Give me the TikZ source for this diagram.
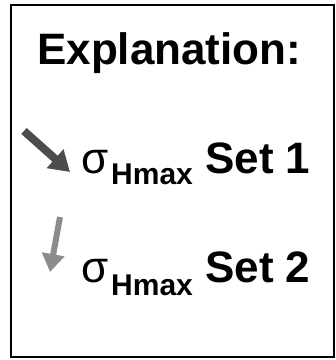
\documentclass[tikz,border=0pt]{standalone}
\usepackage{fontspec}
\setmainfont{Liberation Sans}
\usetikzlibrary{arrows.meta}

\begin{document}
\begin{tikzpicture}[x=1pt, y=-1pt, >={Triangle[length=20pt, width=24pt]},
    big/.style={anchor=base west, inner sep=0pt, font=\fontsize{44}{50}\selectfont\bfseries},
    sig/.style={anchor=base west, inner sep=0pt, font=\fontsize{44}{50}\selectfont},
    sub/.style={anchor=base west, inner sep=0pt, font=\fontsize{30}{34}\selectfont\bfseries}]
    \useasboundingbox (0,0) rectangle (336,360);
    \draw[line width=1.6pt] (11,5) rectangle (334,357);
    \node[big] (title) at (37,64) {Explanation:};
    % set 1
    \node[sig] (sigA) at (81,173) {σ};
    \node[sub] (subA) at (111,184) {Hmax};
    \node[big] (setA) at (205,173) {Set 1};
    % set 2
    \node[sig] (sigB) at (81,282) {σ};
    \node[sub] (subB) at (111,295) {Hmax};
    \node[big] (setB) at (205,282) {Set 2};
    % arrows
    \coordinate (tailA) at (24,131);
    \coordinate (tipA) at (70,172);
    \coordinate (tailB) at (60,217);
    \coordinate (tipB) at (50,272);
    \draw[->, line width=8pt, black!70] (tailA) -- (tipA);
    \draw[->, line width=6pt, black!45, >={Triangle[length=18pt, width=22pt]}] (tailB) -- (tipB);
\end{tikzpicture}
\end{document}
